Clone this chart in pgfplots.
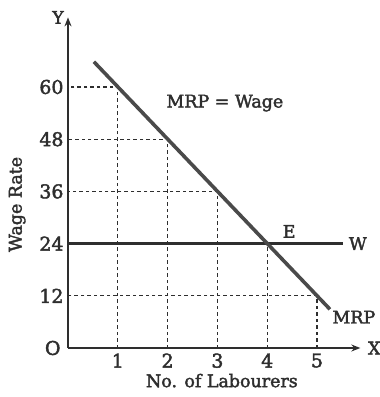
\documentclass[border=0pt]{standalone}
\usepackage{fontspec}
\setmainfont{DejaVu Serif}[FakeBold=2.2]
\usepackage{pgfplots}
\pgfplotsset{compat=1.18}
\usetikzlibrary{arrows.meta}
\definecolor{ink}{HTML}{2E2E2E}
\definecolor{mrp}{HTML}{4A4A4A}
\newcommand{\lab}{\fontsize{17.5}{20}\selectfont}
\begin{document}
\begin{tikzpicture}
\begin{axis}[
  at={(0,0)}, anchor=origin,
  x=49.8bp, y=4.35bp,
  xmin=0, xmax=5.87, ymin=0, ymax=76,
  axis lines=left,
  axis line style={line width=1.6pt, ink, -{Stealth[length=9pt,width=7pt]}},
  xtick={1,2,3,4,5}, ytick={12,24,36,48,60},
  major tick length=0pt,
  tick label style={font=\fontsize{19}{21}\selectfont, text=ink},
  /pgf/number format/assume math mode=true,
  xticklabel style={yshift=-2bp},
  yticklabel style={xshift=-1bp},
  clip=false,
]
% guide lines from each point on the MRP curve to both axes
\addplot[ink, line width=1.1pt, dash pattern=on 3.5pt off 3pt] coordinates {(1,0) (1,60) (0,60)};
\addplot[ink, line width=1.1pt, dash pattern=on 3.5pt off 3pt] coordinates {(2,0) (2,48) (0,48)};
\addplot[ink, line width=1.1pt, dash pattern=on 3.5pt off 3pt] coordinates {(3,0) (3,36) (0,36)};
\addplot[ink, line width=1.1pt, dash pattern=on 3.5pt off 3pt] coordinates {(4,0) (4,24)};
\addplot[ink, line width=1.1pt, dash pattern=on 3.5pt off 3pt] coordinates {(5,0) (5,12) (0,12)};
% wage line
\addplot[ink, line width=2.6pt] coordinates {(0,24) (5.52,24)};
% marginal revenue product
\addplot[mrp, line width=3.6pt] coordinates {(0.52,65.8) (5.26,8.9)};
\node[text=ink, font=\fontsize{19}{21}\selectfont, anchor=east] at (axis cs:-0.08,0) {O};
\node[text=ink, font=\lab] at (axis cs:-0.2,76) {Y};
\node[text=ink, font=\lab] at (axis cs:6.15,0) {X};
\node[text=ink, font=\lab] at (axis cs:5.82,24) {W};
\node[text=ink, font=\lab] at (axis cs:4.44,26.8) {E};
\node[text=ink, font=\lab] at (axis cs:5.74,7.1) {MRP};
\node[text=ink, font=\lab] at (axis cs:3.15,56.3) {MRP = Wage};
\node[text=ink, font=\lab] at (axis cs:3.09,-7.5) {No. of Labourers};
\node[text=ink, font=\lab, rotate=90] at (axis cs:-1.02,33) {Wage Rate};
\end{axis}
\pgfresetboundingbox
\path[use as bounding box] (-68bp,-49bp) rectangle (312bp,348bp);
\end{tikzpicture}
\end{document}
